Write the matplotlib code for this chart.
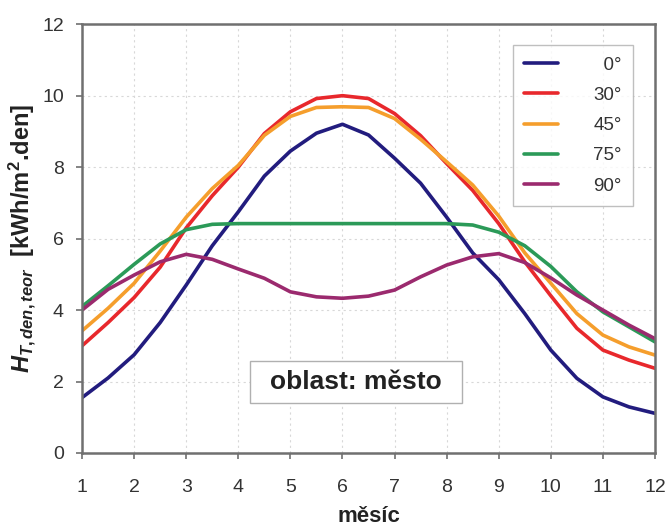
import matplotlib
matplotlib.use("Agg")
import matplotlib.pyplot as plt
from matplotlib.patches import Rectangle

plt.rcParams["font.family"] = ["Liberation Sans", "DejaVu Sans"]
plt.rcParams["mathtext.fontset"] = "custom"
plt.rcParams["mathtext.rm"] = "Liberation Sans:bold"
plt.rcParams["mathtext.it"] = "Liberation Sans:bold:italic"
plt.rcParams["mathtext.bf"] = "Liberation Sans:bold"

# half-month sample points
months = [1, 1.5, 2, 2.5, 3, 3.5, 4, 4.5, 5, 5.5, 6, 6.5,
          7, 7.5, 8, 8.5, 9, 9.5, 10, 10.5, 11, 11.5, 12]

h_0 = [1.55, 2.1, 2.75, 3.65, 4.7, 5.8, 6.75, 7.75, 8.45, 8.95, 9.2, 8.9,
       8.25, 7.55, 6.6, 5.6, 4.85, 3.9, 2.88, 2.09, 1.57, 1.29, 1.11]
h_30 = [3.0, 3.65, 4.35, 5.2, 6.3, 7.2, 8.0, 8.94, 9.55, 9.92, 10.0, 9.92,
        9.5, 8.88, 8.1, 7.35, 6.42, 5.35, 4.4, 3.49, 2.88, 2.6, 2.37]
h_45 = [3.42, 4.05, 4.75, 5.65, 6.6, 7.4, 8.05, 8.89, 9.42, 9.67, 9.69, 9.67,
        9.36, 8.78, 8.15, 7.5, 6.63, 5.6, 4.75, 3.9, 3.3, 2.97, 2.74]
h_75 = [4.1, 4.68, 5.28, 5.85, 6.25, 6.4, 6.42, 6.42, 6.42, 6.42, 6.42, 6.42,
        6.42, 6.42, 6.42, 6.38, 6.18, 5.8, 5.22, 4.51, 3.95, 3.53, 3.11]
h_90 = [4.0, 4.58, 4.98, 5.35, 5.56, 5.42, 5.15, 4.89, 4.51, 4.37, 4.33, 4.39,
        4.56, 4.93, 5.26, 5.49, 5.58, 5.33, 4.9, 4.42, 4.0, 3.58, 3.2]

series = [("  0°", h_0, "#221c7e"),
          ("30°", h_30, "#e8282c"),
          ("45°", h_45, "#f59e2c"),
          ("75°", h_75, "#2b9a58"),
          ("90°", h_90, "#9b2a6e")]

fig = plt.figure(figsize=(6.67, 5.30), dpi=100)
ax = fig.add_axes([0.123, 0.1453, 0.859, 0.809])

for label, vals, color in series:
    ax.plot(months, vals, color=color, lw=2.6, label=label,
            solid_joinstyle="round", solid_capstyle="round")

ax.set_xlim(1, 12)
ax.set_ylim(0, 12)
ax.set_xticks(range(1, 13))
ax.set_yticks(range(0, 13, 2))
ax.grid(True, color="#d8d8d8", ls=(0, (2, 3)), lw=0.8)
for s in ax.spines.values():
    s.set_color("#707070")
    s.set_linewidth(1.8)
ax.tick_params(direction="out", length=4, width=1.2, color="#707070",
               labelsize=14, labelcolor="#333333")
ax.tick_params(axis="x", pad=15)
ax.tick_params(axis="y", pad=9)

ax.set_xlabel("měsíc", fontsize=16, fontweight="bold", color="#222222", labelpad=7)
ax.set_ylabel(r"$H_{T,den,teor}$  [kWh/m$^2$.den]", fontsize=17,
              fontweight="bold", color="#222222", labelpad=3)

leg = ax.legend(loc="upper right", bbox_to_anchor=(0.962, 0.951), fontsize=13.5,
                frameon=True, fancybox=False, handlelength=1.8,
                handletextpad=1.9, labelspacing=0.7, borderpad=0.6,
                borderaxespad=0)
leg.get_frame().set_edgecolor("#b0b0b0")
leg.get_frame().set_linewidth(1.0)
for t in leg.get_texts():
    t.set_color("#333333")

# label box "oblast: město"
ax.add_patch(Rectangle((4.225, 1.40), 4.07, 1.17, fc="white", ec="#b0b0b0",
                       lw=1.0, zorder=3))
ax.text(6.26, 1.985, "oblast: město", fontsize=19, fontweight="bold",
        color="#222222", ha="center", va="center", zorder=4)

fig.savefig("out.png", dpi=100)
